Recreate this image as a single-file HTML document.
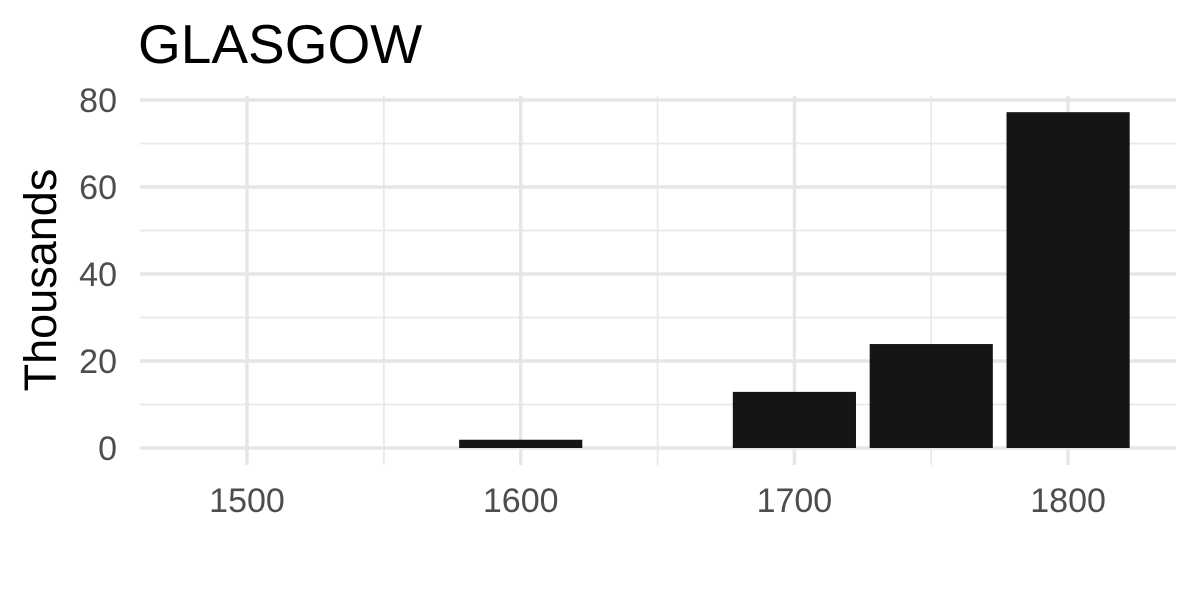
<!DOCTYPE html>
<html><head><meta charset="utf-8"><style>
html,body{margin:0;padding:0;background:#fff;}
svg{display:block;font-family:"Liberation Sans",Arial,sans-serif;}
</style></head><body>
<svg id="chart" width="1200" height="600">
<text x="138" y="63" font-size="55" fill="#000">GLASGOW</text>
<text transform="translate(56,280) rotate(-90)" text-anchor="middle" font-size="45" fill="#000">Thousands</text>
<g id="grid"></g><g id="bars"></g><g id="labels"></g>
</svg>
<script>
const categories = [1600, 1700, 1750, 1800];
const values = [1.9, 12.9, 23.9, 77.2];
const yTicks = [0, 20, 40, 60, 80];
const yMinor = [10, 30, 50, 70];
const xTicks = [1500, 1600, 1700, 1800];
const xMinor = [1550, 1650, 1750];
const barWidth = 45;

const L=140,R=1176,T=96,B=465;
const x=v=>247+(v-1500)*2.737;
const y=v=>448-v*4.35;
const ns="http://www.w3.org/2000/svg";
function mk(tag,attrs,parent){const e=document.createElementNS(ns,tag);for(const k in attrs)e.setAttribute(k,attrs[k]);parent.appendChild(e);return e;}
const grid=document.getElementById('grid'),bars=document.getElementById('bars'),labels=document.getElementById('labels');
yMinor.forEach(v=>{const l=mk('line',{x1:L,x2:R,y1:y(v),y2:y(v),stroke:'#e9e9e9','stroke-width':1.8},grid);

});
xMinor.forEach(v=>{const l=mk('line',{x1:x(v),x2:x(v),y1:T,y2:B,stroke:'#e9e9e9','stroke-width':1.8},grid);

});
yTicks.forEach(v=>{const l=mk('line',{x1:L,x2:R,y1:y(v),y2:y(v),stroke:'#e6e6e6','stroke-width':3.4},grid);


const t=mk('text',{x:117,y:y(v)+12,'text-anchor':'end','font-size':34,fill:'#4d4d4d'},labels);t.textContent=v;

});
xTicks.forEach(v=>{const l=mk('line',{x1:x(v),x2:x(v),y1:T,y2:B,stroke:'#e6e6e6','stroke-width':3.4},grid);


const t=mk('text',{x:x(v),y:512,'text-anchor':'middle','font-size':34,fill:'#4d4d4d'},labels);t.textContent=v;

});
categories.forEach((c,i)=>{const w=barWidth*2.737;const r=mk('rect',{x:x(c)-w/2,y:y(values[i]),width:w,height:y(0)-y(values[i]),fill:'#151515'},bars);

});
</script>
</body></html>
